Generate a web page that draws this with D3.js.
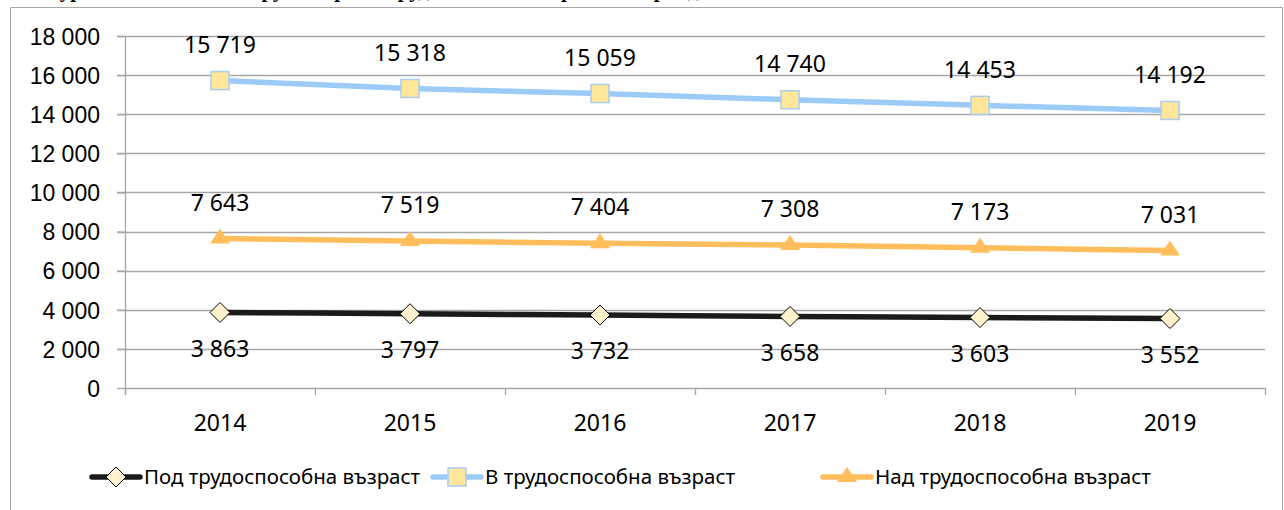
<!DOCTYPE html>
<html>
<head>
<meta charset="utf-8">
<script src="https://cdn.jsdelivr.net/npm/d3@7"></script>
<style>
  body { margin: 0; background: #fff; }
  svg { display: block; font-family: "Noto Sans", "Open Sans", sans-serif; }
</style>
</head>
<body>
<svg width="1284" height="510"></svg>
<script>
// данни
var years = ["2014", "2015", "2016", "2017", "2018", "2019"];
var underAge = [3863, 3797, 3732, 3658, 3603, 3552];
var workAge = [15719, 15318, 15059, 14740, 14453, 14192];
var overAge = [7643, 7519, 7404, 7308, 7173, 7031];
var yTicks = [0, 2000, 4000, 6000, 8000, 10000, 12000, 14000, 16000, 18000];
var seriesNames = ["Под трудоспособна възраст", "В трудоспособна възраст", "Над трудоспособна възраст"];

var svg = d3.select("svg"),
    margin = {top: 36, right: 19, bottom: 122, left: 125},
    width = +svg.attr("width"),
    height = +svg.attr("height"),
    cWidth = width - margin.left - margin.right,
    cHeight = height - margin.top - margin.bottom;

var fmt = function(v) { return d3.format(",")(v).replace(/,/g, " "); };

// заглавие (отрязано отгоре, виждат се само долните части)
svg.append("text")
    .attr("x", 20).attr("y", -3)
    .style("font-family", "'Liberation Serif', serif")
    .style("font-weight", "bold")
    .style("font-size", "21px")
    .text("Фигура 2. Население по групи спрямо трудоспособна възраст за периода 2014 – 2019 г.");

// рамка на диаграмата
svg.append("path")
    .attr("d", "M10.5," + height + "V7.5H" + (width - 1.5) + "V" + height)
    .attr("fill", "none").attr("stroke", "#a6a6a6").attr("stroke-width", 1);

var g = svg.append("g").attr("transform", "translate(" + margin.left + "," + margin.top + ")");

var x = d3.scaleBand().domain(years).range([0, cWidth]);
var y = d3.scaleLinear().domain([0, 18000]).range([cHeight, 0]);
var cx = function(d) { return x(d) + x.bandwidth() / 2; };

// мрежа
g.append("g")
    .selectAll("line")
    .data(yTicks.filter(function(d) { return d > 0; }))
    .enter().append("line")
    .attr("x1", -8).attr("x2", cWidth)
    .attr("y1", function(d) { return Math.round(y(d)) + 0.5; })
    .attr("y2", function(d) { return Math.round(y(d)) + 0.5; })
    .attr("stroke", "#a6a6a6").attr("stroke-width", 1.3);

// оси
var yAxis = g.append("g")
    .call(d3.axisLeft(y).tickValues(yTicks).tickSize(8).tickPadding(17).tickFormat(fmt));
yAxis.select(".domain").attr("d", "M0.5," + (cHeight + 7) + "V0");
yAxis.selectAll("path, line").attr("stroke", "#a6a6a6").attr("stroke-width", 1.3);
yAxis.selectAll("text").style("font-size", "23px").attr("fill", "#000").attr("dy", "0.36em");

var xAxis = g.append("g").attr("transform", "translate(0," + cHeight + ")");
xAxis.append("line")
    .attr("x1", 0).attr("x2", cWidth).attr("y1", 0.5).attr("y2", 0.5)
    .attr("stroke", "#a6a6a6").attr("stroke-width", 1.3);
xAxis.selectAll(".tk")
    .data(years.map(function(d) { return x(d); }).concat([cWidth]))
    .enter().append("line")
    .attr("x1", function(d) { return d + 0.5; }).attr("x2", function(d) { return d + 0.5; })
    .attr("y1", 0).attr("y2", 7)
    .attr("stroke", "#a6a6a6").attr("stroke-width", 1.3);
xAxis.selectAll(".lbl")
    .data(years)
    .enter().append("text")
    .attr("x", cx).attr("y", 43)
    .attr("text-anchor", "middle")
    .style("font-size", "23px")
    .text(function(d) { return d; });

// серии
var series = [
  {name: seriesNames[0], values: underAge, color: "#1a1a1a", marker: "diamond", labelDy: 36},
  {name: seriesNames[1], values: workAge, color: "#9dcbf7", marker: "square", labelDy: -36},
  {name: seriesNames[2], values: overAge, color: "#ffbd5c", marker: "triangle", labelDy: -36}
];

function drawMarker(sel, type) {
  if (type === "diamond") {
    sel.append("path").attr("d", "M0,-10L10,0L0,10L-10,0Z")
      .attr("fill", "#fff2cc").attr("stroke", "#000").attr("stroke-width", 1);
  } else if (type === "square") {
    sel.append("rect").attr("x", -9).attr("y", -9).attr("width", 18).attr("height", 18)
      .attr("fill", "#ffe699").attr("stroke", "#a9cdef").attr("stroke-width", 1.5);
  } else {
    sel.append("path").attr("d", "M0,-10L10,5L-10,5Z").attr("fill", "#ffbd5c");
  }
}

var line = d3.line()
    .x(function(d, i) { return cx(years[i]); })
    .y(function(d) { return y(d); })
    .curve(d3.curveMonotoneX);

// ред на рисуване: над, в, под
[series[2], series[1], series[0]].forEach(function(s) {
  g.append("path")
      .datum(s.values)
      .attr("d", line)
      .attr("fill", "none")
      .attr("stroke", s.color)
      .attr("stroke-width", 5.5)
      .attr("stroke-linecap", "round");
  s.values.forEach(function(v, i) {
    var m = g.append("g").attr("transform", "translate(" + cx(years[i]) + "," + y(v) + ")");
    drawMarker(m, s.marker);
  });
  g.append("g")
      .selectAll("text")
      .data(s.values)
      .enter().append("text")
      .attr("x", function(d, i) { return cx(years[i]); })
      .attr("y", function(d) { return y(d) + s.labelDy; })
      .attr("dy", "0.36em")
      .attr("text-anchor", "middle")
      .style("font-size", "23px")
      .text(fmt);
});

// легенда
var legendX = [92, 433, 823];
var legend = svg.append("g").attr("transform", "translate(0,477)");
series.forEach(function(s, i) {
  var lg = legend.append("g").attr("transform", "translate(" + legendX[i] + ",0)");
  lg.append("line").attr("x1", 0).attr("x2", 48).attr("y1", 0).attr("y2", 0)
    .attr("stroke", s.color).attr("stroke-width", 5.5).attr("stroke-linecap", "round");
  var m = lg.append("g").attr("transform", "translate(24,0)");
  drawMarker(m, s.marker);
  lg.append("text").attr("x", 52).attr("y", 0).attr("dy", "0.36em")
    .style("font-size", "20.5px")
    .text(s.name);
});
</script>
</body>
</html>
